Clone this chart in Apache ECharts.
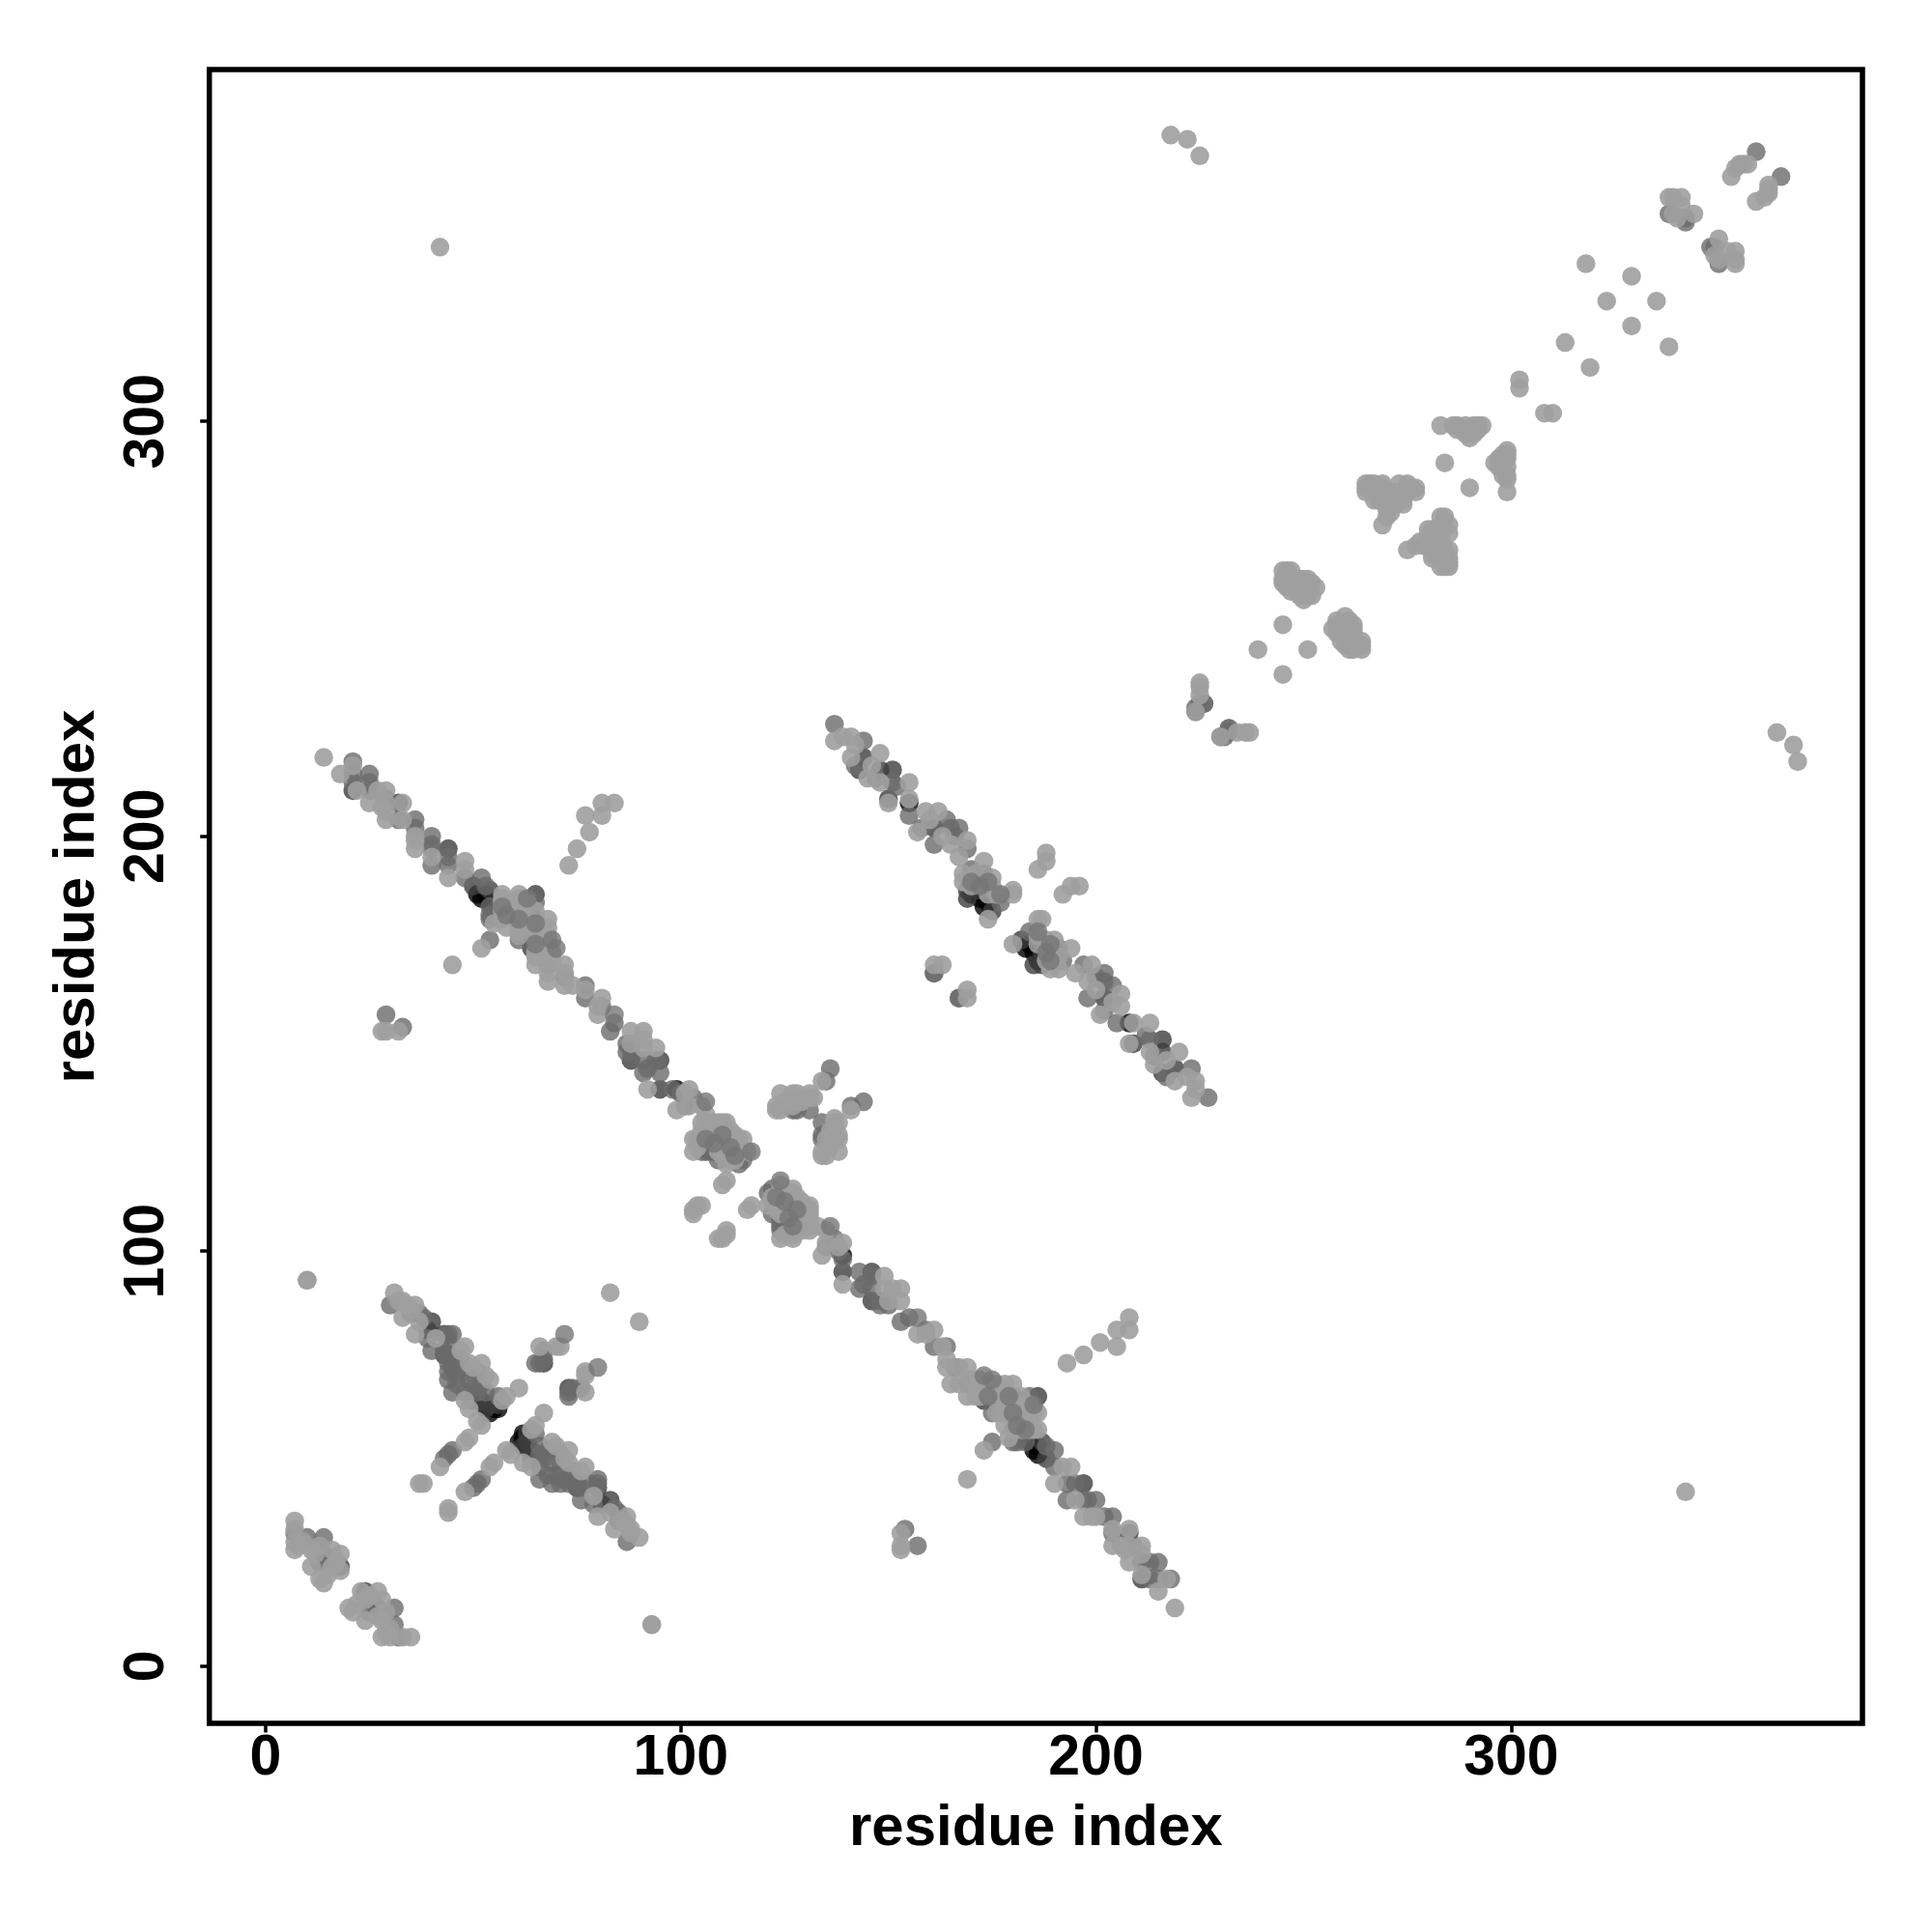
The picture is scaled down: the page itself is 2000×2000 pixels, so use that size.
<!DOCTYPE html>
<html><head><meta charset="utf-8">
<style>html,body{margin:0;padding:0;background:#fff}#c{width:2000px;height:2000px}</style>
<script src="https://cdn.jsdelivr.net/npm/echarts@6/dist/echarts.min.js"></script>
</head><body><div id="c"></div>
<script>
const tickValues=[0,100,200,300];
const axisTitle="residue index";
// contacts above the diagonal as [i,j]; the map is symmetric
const deepContacts=[[55,62],[54,61],[56,62],[53,63],[99,139],[52,185],[51,186],[53,186],[54,184],[155,208],[172,185],[173,183],[171,187],[174,184],[170,186]];
const darkContacts=[[40,83],[39,81],[43,80],[43,75],[52,64],[54,63],[56,63],[50,64],[53,62],[67,73],[18,24],[44,197],[50,188],[54,187],[65,186],[64,173],[65,180],[88,146],[95,146],[95,139],[144,219],[143,216],[151,216],[150,209],[161,202],[171,188],[175,182],[21,211],[32,208],[148,216],[169,187],[169,185],[172,187],[62,176]];
const midContacts=[[30,87],[35,85],[37,85],[38,84],[39,79],[40,76],[44,80],[45,80],[44,78],[43,76],[44,75],[44,73],[45,72],[44,71],[44,69],[45,66],[47,74],[48,71],[46,68],[48,66],[51,71],[52,68],[51,66],[56,65],[46,70],[49,69],[50,67],[53,66],[67,76],[67,74],[66,73],[65,73],[45,52],[44,51],[43,50],[10,31],[14,27],[7,32],[14,31],[13,25],[15,26],[21,218],[21,215],[25,215],[25,211],[32,204],[36,204],[40,200],[40,197],[40,193],[44,193],[48,190],[52,190],[53,188],[54,180],[61,175],[65,184],[65,177],[68,169],[72,166],[77,164],[77,161],[83,153],[87,150],[91,146],[91,143],[95,143],[106,124],[101,135],[103,137],[109,127],[115,122],[114,121],[54,175],[29,157],[33,154],[136,144],[135,141],[128,134],[127,134],[131,134],[137,227],[144,223],[151,213],[155,205],[165,202],[167,202],[169,197],[161,198],[173,191],[170,192],[177,184],[161,167],[167,161],[342,349],[342,348],[224,231],[226,232],[225,232],[230,224],[232,226],[359,365],[338,350],
[21,213],[25,213],[29,209],[36,202],[40,198],[44,195],[88,148],[87,148],[94,146],[92,144],[100,138],[98,139],[81,159],[84,155],[107,124],[108,124],[105,124],[107,129],[109,122],[147,214],[152,212],[142,217],[158,202],[166,200],[164,204],[54,181],[54,183],[57,181],[61,181]];
const lightContacts=[[31,90],[33,88],[32,88],[36,87],[34,87],[33,84],[35,86],[36,80],[37,83],[41,79],[48,77],[47,76],[49,73],[52,73],[50,72],[54,69],[53,70],[49,62],[48,64],[58,65],[57,64],[61,67],[52,58],[51,59],[70,77],[71,77],[66,77],[37,44],[38,44],[49,55],[48,54],[42,48],[10,93],[83,90],[93,10],
[7,35],[7,33],[7,30],[7,28],[9,30],[8,29],[11,28],[11,24],[12,27],[13,21],[14,20],[15,22],[16,24],[16,28],[17,25],[18,27],[18,23],[13,29],
[14,219],[18,215],[29,211],[25,208],[29,208],[29,204],[36,200],[36,197],[40,195],[44,190],[48,194],[57,186],[61,186],[57,183],[57,180],[55,179],[61,183],[61,179],[68,180],[65,169],[72,169],[68,165],[72,164],[81,161],[80,157],[88,153],[91,153],[91,149],[94,149],[92,139],[102,139],[99,134],[102,135],[105,131],[103,127],[103,124],[108,131],[111,131],[113,128],[115,127],[110,123],[112,123],[111,121],[111,117],[110,116],[104,111],[103,109],[105,111],[103,110],[77,205],[81,208],[84,208],[81,205],[78,201],[75,197],[73,193],[52,173],[45,169],[28,153],[29,153],[32,153],
[124,138],[127,138],[128,138],[131,138],[132,137],[123,135],[124,134],[131,137],[127,136],[125,136],[129,136],[123,134],[134,141],
[137,223],[141,224],[141,219],[148,220],[148,213],[155,213],[155,209],[150,208],[159,206],[162,206],[157,201],[165,198],[169,199],[167,195],[173,194],[168,191],[175,188],[174,180],[180,187],[180,186],[186,192],[188,194],[188,196],[161,169],[163,169],
[283,299],[286,299],[287,299],[289,299],[291,299],[293,299],[292,298],[291,297],[290,296],[289,297],[290,298],[284,290],[287,298],[292,299],
[265,285],[265,284],[265,283],[266,285],[267,285],[269,285],[269,284],[273,285],[275,285],[276,284],[277,283],[277,284],[268,282],[270,283],[272,283],[271,281],[273,282],[275,283],[274,281],[274,280],[270,279],[271,278],[270,277],[269,275],[268,281],[267,281],[270,280],[269,282],[272,280],
[245,264],[246,264],[247,264],[245,262],[245,261],[246,260],[247,259],[249,262],[250,262],[251,262],[252,261],[253,260],[251,258],[250,257],[249,258],[252,258],[249,260],[248,261],[245,251],[239,245],
[225,236],[225,237],[225,234],[224,230],[318,338],[329,335],[323,329],[313,319],[338,354],[339,354],[341,354],[341,352],[339,350],[344,350],[340,349],[357,362],[356,362],[355,362],[354,361],[353,359],
[42,342],[218,369],[222,368],[225,364],[302,310],[302,308],
[61,176],[61,177],[61,178],[61,180],[61,182],[61,184],[61,185],[57,182],[57,184],[57,185],[65,178],[65,182],[65,175],[65,171],[65,172],[68,178],[68,176],[68,174],[68,172],[68,171],[68,167],[69,172],[69,170],[72,167],[58,178],[59,181],[59,184],[63,184],[63,181],[63,178],[106,131],[107,131],[109,131],[110,131],[104,127],[105,127],[107,127],[108,127],[110,127],[111,127],[112,127],[114,127],[109,124],[110,124],[111,124],[113,124],[114,124],[116,124],[109,129],[112,129],[112,122],[113,122],[104,125],[105,129],[111,126],[113,126],
[21,217],[29,206],[33,204],[33,208],[27,211],[28,207],[22,211],[36,199],[48,192],[77,163],[80,159],[74,164],[88,150],[91,151],[101,138],[170,190],[172,189],[171,191],[173,188],[174,186],[176,186],[175,190],[170,188],[168,189],[146,217],[142,222],[139,224],[145,214],[163,200],[160,204],[105,135],[106,133],[127,135],[130,137]];
// mid-toned marks seen lying on top of the lighter ones
const topContacts=[[72,80],[117,124],[106,136],[106,127],[84,157],[69,175],[70,173],[65,179],[61,180],[65,174],[57,183],[108,126],[110,128],[113,123],[112,125],[58,181],[63,185],[172,188],[170,189],[177,186],[174,189]];
const shades=[
 {data:deepContacts,color:'#000000',alpha:0.8},
 {data:darkContacts,color:'#3d3d3d',alpha:0.8},
 {data:midContacts,color:'#6a6a6a',alpha:0.8},
 {data:lightContacts,color:'#9e9e9e',alpha:0.9},
 {data:topContacts,color:'#757575',alpha:0.8}];
const both=list=>list.flatMap(([i,j])=>[[i,j],[j,i]]);
const labelFont={fontFamily:'"Liberation Sans"',fontWeight:'bold',fontSize:59,color:'#000'};
const chart=echarts.init(document.getElementById('c'),null,{renderer:'canvas'});
chart.setOption({
 animation:false,backgroundColor:'#fff',
 grid:{left:216.7,top:72,width:1711.3,height:1712,show:true,borderColor:'#000',borderWidth:5.5,backgroundColor:'transparent'},
 xAxis:{type:'value',min:-13.56,max:384.6,name:axisTitle,nameLocation:'middle',nameGap:79,nameTextStyle:{...labelFont,fontSize:60},
  axisLine:{show:false,onZero:false},splitLine:{show:false},
  axisTick:{length:9.5,lineStyle:{width:3.5,color:'#000'},customValues:tickValues},
  axisLabel:{...labelFont,margin:7,customValues:tickValues,showMinLabel:true,showMaxLabel:true}},
 yAxis:{type:'value',min:-13.8,max:384.8,name:axisTitle,nameLocation:'middle',nameGap:106,nameTextStyle:{...labelFont,fontSize:60},
  axisLine:{show:false,onZero:false},splitLine:{show:false},
  axisTick:{length:9.5,lineStyle:{width:3.5,color:'#000'},customValues:tickValues},
  axisLabel:{...labelFont,margin:64,rotate:90,align:'center',verticalAlign:'middle',customValues:tickValues}},
 series:shades.map(s=>({type:'scatter',symbol:'circle',symbolSize:19.5,silent:true,
  data:both(s.data),itemStyle:{color:s.color,opacity:s.alpha}}))
});
</script></body></html>
